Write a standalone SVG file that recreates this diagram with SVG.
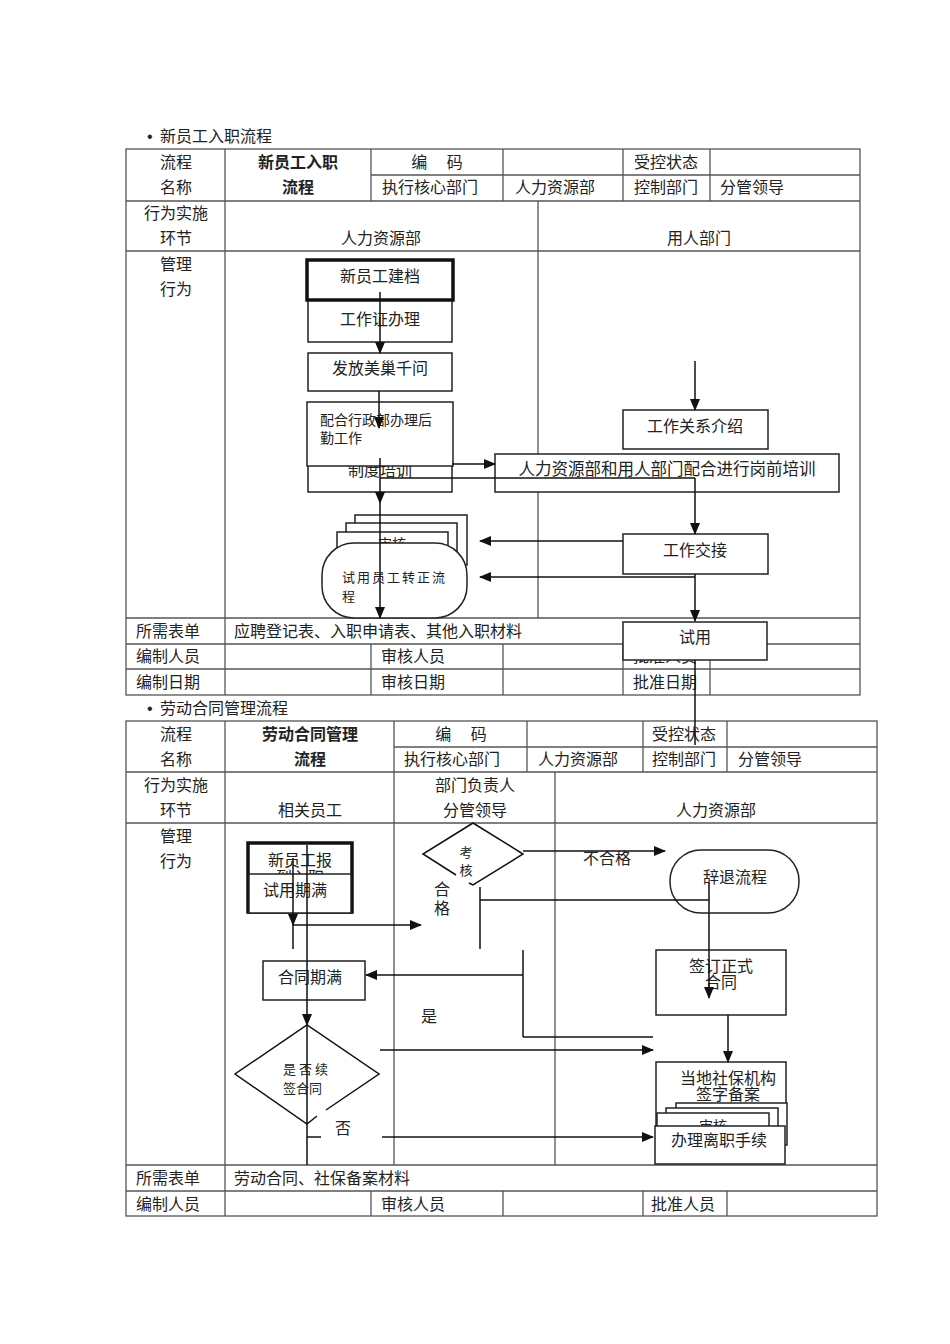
<svg xmlns="http://www.w3.org/2000/svg" width="950" height="1344" viewBox="0 0 950 1344">
<style>
text{font-family:"Noto Sans CJK SC","Liberation Serif",serif;font-size:16px;fill:#222;}
.c{text-anchor:middle;}
.b{font-weight:bold;}
.s{font-size:14px;}
.xs{font-size:13px;}
.bul{font-family:"Liberation Sans",sans-serif;font-size:16px;}
.tb{stroke:#555;stroke-width:1.3;fill:none;}
.n{fill:#fff;stroke:#222;stroke-width:1.5;}
.thick{fill:#fff;stroke:#111;stroke-width:3.5;}
.ln{stroke:#111;stroke-width:1.5;fill:none;}
.ar{stroke:#111;stroke-width:1.5;fill:none;marker-end:url(#ah);}
</style>
<defs>
<marker id="ah" markerUnits="userSpaceOnUse" markerWidth="12" markerHeight="10" refX="11" refY="5" orient="auto">
<path d="M0,0 L12,5 L0,10 Z" fill="#111"/>
</marker>
</defs>
<rect width="950" height="1344" fill="#fff"/>

<!-- ===== Table 1 ===== -->
<g id="table1">
<text class="bul" x="147" y="142">•</text>
<text x="160" y="142">新员工入职流程</text>
<rect class="tb" x="126" y="149" width="734" height="546"/>
<line class="tb" x1="371" y1="175" x2="860" y2="175"/>
<line class="tb" x1="126" y1="201" x2="860" y2="201"/>
<line class="tb" x1="126" y1="251" x2="860" y2="251"/>
<line class="tb" x1="126" y1="618" x2="860" y2="618"/>
<line class="tb" x1="126" y1="644" x2="860" y2="644"/>
<line class="tb" x1="126" y1="669" x2="860" y2="669"/>
<line class="tb" x1="225" y1="149" x2="225" y2="695"/>
<line class="tb" x1="371" y1="149" x2="371" y2="201"/>
<line class="tb" x1="503" y1="149" x2="503" y2="201"/>
<line class="tb" x1="623" y1="149" x2="623" y2="201"/>
<line class="tb" x1="710" y1="149" x2="710" y2="201"/>
<line class="tb" x1="538" y1="201" x2="538" y2="618"/>
<line class="tb" x1="371" y1="644" x2="371" y2="695"/>
<line class="tb" x1="503" y1="644" x2="503" y2="695"/>
<line class="tb" x1="623" y1="644" x2="623" y2="695"/>
<line class="tb" x1="710" y1="644" x2="710" y2="695"/>
<text class="c" x="176" y="168">流程</text>
<text class="c b" x="298" y="168">新员工入职</text>
<text class="c" x="437" y="168">编　 码</text>
<text class="c" x="666" y="168">受控状态</text>
<text class="c" x="176" y="193">名称</text>
<text class="c b" x="298" y="193">流程</text>
<text class="c" x="430" y="193">执行核心部门</text>
<text class="c" x="555" y="193">人力资源部</text>
<text class="c" x="666" y="193">控制部门</text>
<text class="c" x="752" y="193">分管领导</text>
<text class="c" x="176" y="219">行为实施</text>
<text class="c" x="176" y="244">环节</text>
<text class="c" x="381" y="244">人力资源部</text>
<text class="c" x="699" y="244">用人部门</text>
<text class="c" x="176" y="270">管理</text>
<text class="c" x="176" y="295">行为</text>
<text x="136" y="637">所需表单</text>
<text x="234" y="637">应聘登记表、入职申请表、其他入职材料</text>
<text x="136" y="662">编制人员</text>
<text x="381" y="662">审核人员</text>
<text x="633" y="662">批准人员</text>
<text x="136" y="688">编制日期</text>
<text x="381" y="688">审核日期</text>
<text x="633" y="688">批准日期</text>
</g>

<!-- ===== Table 2 ===== -->
<g id="table2">
<text class="bul" x="147" y="714">•</text>
<text x="160" y="714">劳动合同管理流程</text>
<rect class="tb" x="126" y="721" width="751" height="495"/>
<line class="tb" x1="394" y1="747" x2="877" y2="747"/>
<line class="tb" x1="126" y1="772" x2="877" y2="772"/>
<line class="tb" x1="126" y1="823" x2="877" y2="823"/>
<line class="tb" x1="126" y1="1165" x2="877" y2="1165"/>
<line class="tb" x1="126" y1="1191" x2="877" y2="1191"/>
<line class="tb" x1="225" y1="721" x2="225" y2="1216"/>
<line class="tb" x1="394" y1="721" x2="394" y2="1165"/>
<line class="tb" x1="527" y1="721" x2="527" y2="772"/>
<line class="tb" x1="643" y1="721" x2="643" y2="772"/>
<line class="tb" x1="727" y1="721" x2="727" y2="772"/>
<line class="tb" x1="555" y1="772" x2="555" y2="1165"/>
<line class="tb" x1="371" y1="1191" x2="371" y2="1216"/>
<line class="tb" x1="503" y1="1191" x2="503" y2="1216"/>
<line class="tb" x1="643" y1="1191" x2="643" y2="1216"/>
<line class="tb" x1="727" y1="1191" x2="727" y2="1216"/>
<text class="c" x="176" y="740">流程</text>
<text class="c b" x="310" y="740">劳动合同管理</text>
<text class="c" x="461" y="740">编　 码</text>
<text class="c" x="684" y="740">受控状态</text>
<text class="c" x="176" y="765">名称</text>
<text class="c b" x="310" y="765">流程</text>
<text class="c" x="452" y="765">执行核心部门</text>
<text class="c" x="578" y="765">人力资源部</text>
<text class="c" x="684" y="765">控制部门</text>
<text class="c" x="770" y="765">分管领导</text>
<text class="c" x="176" y="791">行为实施</text>
<text class="c" x="475" y="791">部门负责人</text>
<text class="c" x="176" y="816">环节</text>
<text class="c" x="310" y="816">相关员工</text>
<text class="c" x="475" y="816">分管领导</text>
<text class="c" x="716" y="816">人力资源部</text>
<text class="c" x="176" y="842">管理</text>
<text class="c" x="176" y="867">行为</text>
<text x="136" y="1184">所需表单</text>
<text x="234" y="1184">劳动合同、社保备案材料</text>
<text x="136" y="1210">编制人员</text>
<text x="381" y="1210">审核人员</text>
<text x="651" y="1210">批准人员</text>
</g>

<!-- ===== Flow 1 nodes ===== -->
<g id="n-gongzuozheng"><rect class="n" x="308" y="300" width="144" height="42"/><text class="c" x="380" y="325">工作证办理</text></g>
<g id="n-jiandang"><rect class="thick" x="307" y="260" width="146" height="40"/><text class="c" x="380" y="282">新员工建档</text></g>
<g id="n-fafang"><rect class="n" x="308" y="353" width="144" height="38"/><text class="c" x="380" y="374">发放美巢千问</text></g>
<g id="n-zhidu"><rect class="n" x="308" y="430" width="144" height="62"/><text class="c" x="380" y="476">制度培训</text></g>
<g id="n-peihe"><rect class="n" x="307" y="402" width="146" height="64"/><text class="s" x="320" y="425">配合行政部办理后</text><text class="s" x="320" y="443">勤工作</text></g>
<g id="n-docs1">
<rect class="n" x="355" y="515" width="112" height="50"/>
<rect class="n" x="346" y="523" width="111" height="50"/>
<rect class="n" x="337" y="532" width="111" height="50"/>
<text class="c s" x="392" y="549">审核</text>
</g>
<g id="n-zhuanzheng"><rect class="n" x="322" y="543" width="145" height="75" rx="32" ry="32"/><text class="xs" x="342" y="582" letter-spacing="2">试用员工转正流</text><text class="xs" x="342" y="601">程</text></g>
<g id="n-guanxi"><rect class="n" x="623" y="410" width="145" height="39"/><text class="c" x="695" y="432">工作关系介绍</text></g>
<g id="n-gangqian"><rect class="n" x="495" y="454" width="344" height="38"/><text class="c" x="667" y="475" style="font-size:16.5px">人力资源部和用人部门配合进行岗前培训</text></g>
<g id="n-jiaojie"><rect class="n" x="623" y="534" width="145" height="40"/><text class="c" x="695" y="556">工作交接</text></g>
<g id="n-shiyong"><rect class="n" x="623" y="622" width="144" height="38"/><text class="c" x="695" y="643">试用</text></g>

<!-- ===== Flow 2 nodes ===== -->
<g id="n-baodao"><rect class="thick" x="248" y="843" width="104" height="69"/><text class="c" x="300" y="866">新员工报</text><text class="c" x="300" y="883">到入职</text></g>
<g id="n-shiyongqiman"><rect class="n" x="249" y="874" width="102" height="39"/><text class="c" x="295" y="896">试用期满</text></g>
<g id="n-hetongqiman"><rect class="n" x="263" y="961" width="102" height="39"/><text class="c" x="310" y="983">合同期满</text></g>
<g id="n-xuqian">
<polyline class="ln" points="317,1116 307,1124 235,1074 307,1025 379,1074 326,1110" fill="#fff"/>
<text class="xs" x="283" y="1074" letter-spacing="3">是否续</text>
<text class="xs" x="283" y="1093">签合同</text>
</g>
<g id="n-kaohe">
<polyline class="ln" points="456,875 423,854 473,823 523,854 473,885 469,883"/>
<text class="xs c" x="466" y="857">考</text>
<text class="xs c" x="466" y="875">核</text>
</g>
<g id="n-citui"><rect class="n" x="670" y="850" width="129" height="63" rx="31" ry="31"/><text class="c" x="735" y="883">辞退流程</text></g>
<g id="n-qianding"><rect class="n" x="656" y="950" width="130" height="65"/><text class="c" x="721" y="972">签订正式</text><text class="c" x="721" y="988">合同</text></g>
<g id="n-shebao"><rect class="n" x="656" y="1062" width="130" height="70"/><text class="c" x="728" y="1084">当地社保机构</text><text class="c" x="728" y="1100">签字备案</text></g>
<g id="n-docs2">
<rect class="n" x="676" y="1103" width="111" height="42"/>
<rect class="n" x="666" y="1108" width="112" height="40"/>
<rect class="n" x="657" y="1113" width="112" height="40"/>
<text class="c s" x="713" y="1131">审核</text>
</g>
<g id="n-lizhi"><rect class="n" x="655" y="1126" width="130" height="38"/><text class="c" x="719" y="1146">办理离职手续</text></g>

<!-- ===== Connectors ===== -->
<g id="connectors">
<line class="ar" x1="380" y1="292" x2="380" y2="353"/>
<line class="ar" x1="379" y1="391" x2="379" y2="428"/>
<line class="ar" x1="380" y1="458" x2="380" y2="503"/>
<line class="ar" x1="380" y1="503" x2="380" y2="618"/>
<line class="ar" x1="452" y1="464" x2="495" y2="464"/>
<line class="ln" x1="380" y1="478" x2="695" y2="478"/>
<line class="ar" x1="695" y1="478" x2="695" y2="534"/>
<line class="ar" x1="695" y1="361" x2="695" y2="410"/>
<line class="ar" x1="623" y1="541" x2="480" y2="541"/>
<line class="ar" x1="695" y1="577" x2="480" y2="577"/>
<line class="ar" x1="695" y1="574" x2="695" y2="621"/>
<line class="ln" x1="695" y1="660" x2="695" y2="745"/>

<line class="ar" x1="293" y1="858" x2="293" y2="925"/>
<line class="ln" x1="293" y1="925" x2="293" y2="949"/>
<line class="ar" x1="293" y1="925" x2="421" y2="925"/>
<line class="ar" x1="307" y1="845" x2="307" y2="1025"/>
<line class="ln" x1="307" y1="1025" x2="307" y2="1165"/>
<line class="ln" x1="523" y1="950" x2="523" y2="1037"/>
<line class="ar" x1="523" y1="975" x2="366" y2="975"/>
<line class="ln" x1="523" y1="1037" x2="653" y2="1037"/>
<line class="ar" x1="380" y1="1050" x2="653" y2="1050"/>
<line class="ln" x1="307" y1="1137" x2="321" y2="1137"/>
<line class="ar" x1="382" y1="1137" x2="653" y2="1137"/>
<line class="ar" x1="523" y1="851" x2="665" y2="851"/>
<line class="ln" x1="480" y1="887" x2="480" y2="949"/>
<line class="ln" x1="480" y1="900" x2="709" y2="900"/>
<line class="ar" x1="709" y1="883" x2="709" y2="998"/>
<line class="ar" x1="728" y1="1015" x2="728" y2="1062"/>
<text x="583" y="864">不合格</text>
<text class="c" x="442" y="895">合</text>
<text class="c" x="442" y="914">格</text>
<text x="421" y="1022">是</text>
<text x="335" y="1134">否</text>
</g>
</svg>
